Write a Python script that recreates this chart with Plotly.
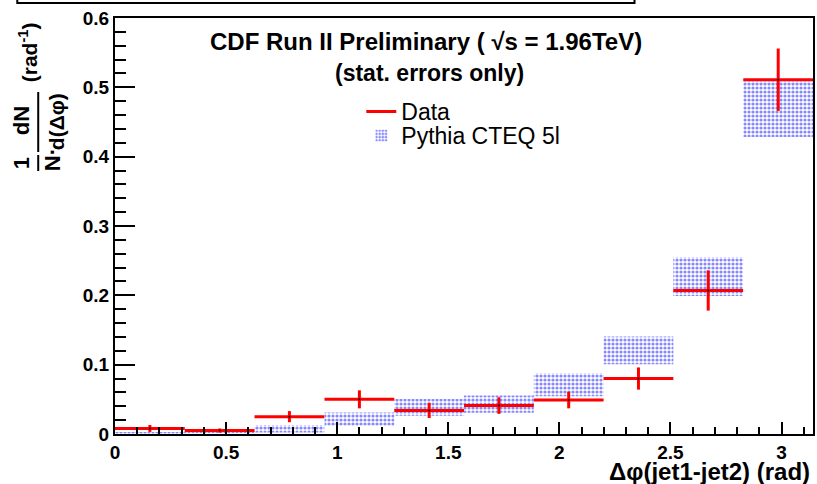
import plotly.graph_objects as go

# ---------------- data ----------------
bin_width = 0.31416
bin_centers = [0.157, 0.471, 0.785, 1.100, 1.414, 1.728, 2.042, 2.356, 2.670, 2.985]

data_values = [0.008, 0.005, 0.025, 0.050, 0.034, 0.041, 0.049, 0.080, 0.207, 0.511]
data_errors = [0.005, 0.003, 0.008, 0.013, 0.011, 0.012, 0.012, 0.016, 0.029, 0.045]

pythia_values = [0.0015, 0.003, 0.0075, 0.0215, 0.0385, 0.043, 0.071, 0.1205, 0.227, 0.4705]
pythia_errors = [0.001, 0.002, 0.0055, 0.0095, 0.012, 0.0125, 0.0165, 0.020, 0.028, 0.042]

x_tickvals = [0, 0.5, 1, 1.5, 2, 2.5, 3]
x_ticktext = ["0", "0.5", "1", "1.5", "2", "2.5", "3"]
y_tickvals = [0, 0.1, 0.2, 0.3, 0.4, 0.5, 0.6]
y_ticktext = ["0", "0.1", "0.2", "0.3", "0.4", "0.5", "0.6"]

# ---------------- layout helpers (pixel -> paper) ----------------
W, H = 817, 484
L, R, T, B = 115, 2, 18, 50
PW, PH = W - L - R, H - T - B


def px(x):
    return (x - L) / PW


def py(y):
    return (H - B - y) / PH


FONT = "Liberation Sans"

fig = go.Figure()

# Pythia band (dotted boxes)
fig.add_trace(go.Bar(
    x=bin_centers,
    y=[2 * e for e in pythia_errors],
    base=[v - e for v, e in zip(pythia_values, pythia_errors)],
    width=bin_width,
    name="Pythia CTEQ 5l",
    marker=dict(color="white", line=dict(width=0),
                pattern=dict(shape=".", fgcolor="#1010ff", bgcolor="white",
                             size=4, solidity=0.5)),
    legend="legend2",
))

# Data points (horizontal bin-width bars + vertical stat errors)
fig.add_trace(go.Scatter(
    x=bin_centers,
    y=data_values,
    mode="markers",
    marker=dict(size=2, color="black"),
    error_x=dict(type="constant", value=bin_width / 2, thickness=3, width=0, color="red"),
    error_y=dict(type="data", array=data_errors, thickness=3, width=0, color="red"),
    showlegend=False,
))

# legend entry for Data
fig.add_trace(go.Scatter(
    x=[None], y=[None], mode="lines", name="Data",
    line=dict(color="red", width=3), legend="legend",
))

annotations = [
    dict(text="<b>CDF Run II Preliminary ( √s = 1.96TeV)</b>", x=px(427), y=py(41),
         font=dict(size=24, family=FONT, color="black")),
    dict(text="<b>(stat. errors only)</b>", x=px(430), y=py(73),
         font=dict(size=23, family=FONT, color="black")),
    dict(text="<b>Δφ(jet1-jet2) (rad)</b>", x=px(814), y=py(471), xanchor="right",
         font=dict(size=24, family=FONT, color="black")),
    # y-axis title pieces (rotated)
    dict(text="<b>(rad<sup>-1</sup>)</b>", x=px(28), y=py(52), textangle=-90,
         font=dict(size=21, family=FONT, color="black")),
    dict(text="<b>dN</b>", x=px(21), y=py(121), textangle=-90,
         font=dict(size=22, family=FONT, color="black")),
    dict(text="<b>d(Δφ)</b>", x=px(56), y=py(122), textangle=-90,
         font=dict(size=21, family=FONT, color="black")),
    dict(text="<b>1</b>", x=px(21), y=py(163), textangle=-90,
         font=dict(size=22, family=FONT, color="black")),
    dict(text="<b>N·</b>", x=px(52), y=py(160), textangle=-90,
         font=dict(size=22, family=FONT, color="black")),
]
for a in annotations:
    a.update(xref="paper", yref="paper", showarrow=False)
    a.setdefault("xanchor", "center")
    a.setdefault("yanchor", "middle")

shapes = [
    # fraction bars
    dict(type="line", x0=px(38), x1=px(38), y0=py(92), y1=py(152)),
    dict(type="line", x0=px(38), x1=px(38), y0=py(155), y1=py(171)),
    # bottom of the cut-off title box at the top
    dict(type="rect", x0=px(17), x1=px(636), y0=py(3), y1=py(-20)),
]
for s in shapes:
    s.update(xref="paper", yref="paper", line=dict(color="black", width=2))

legend_common = dict(xanchor="left", yanchor="top", bgcolor="rgba(0,0,0,0)",
                     font=dict(size=23, family=FONT, color="black"),
                     itemwidth=30)

fig.update_layout(
    width=W, height=H,
    margin=dict(l=L, r=R, t=T, b=B, pad=0),
    paper_bgcolor="white", plot_bgcolor="white",
    barmode="overlay",
    showlegend=True,
    legend=dict(x=px(362), y=py(90), **legend_common),
    legend2=dict(x=px(362), y=py(114), **legend_common),
    annotations=annotations,
    shapes=shapes,
    xaxis=dict(range=[0, 3.14159], showgrid=False, zeroline=False,
               showline=True, linecolor="black", linewidth=2, mirror=True,
               ticks="inside", ticklen=12, tickwidth=2, tickcolor="black",
               tickvals=x_tickvals, ticktext=x_ticktext, ticklabelstandoff=0,
               tickfont=dict(size=19, family=FONT, color="black", weight="bold"),
               minor=dict(ticks="inside", ticklen=7, tickwidth=2, tickcolor="black", dtick=0.1,
                          showgrid=False)),
    yaxis=dict(range=[0, 0.6], showgrid=False, zeroline=False,
               showline=True, linecolor="black", linewidth=2, mirror=True,
               ticks="inside", ticklen=20, tickwidth=2, tickcolor="black",
               tickvals=y_tickvals, ticktext=y_ticktext,
               tickfont=dict(size=19, family=FONT, color="black", weight="bold"),
               minor=dict(ticks="inside", ticklen=11, tickwidth=2, tickcolor="black", dtick=0.02,
                          showgrid=False)),
)

fig.write_html("out.html")
